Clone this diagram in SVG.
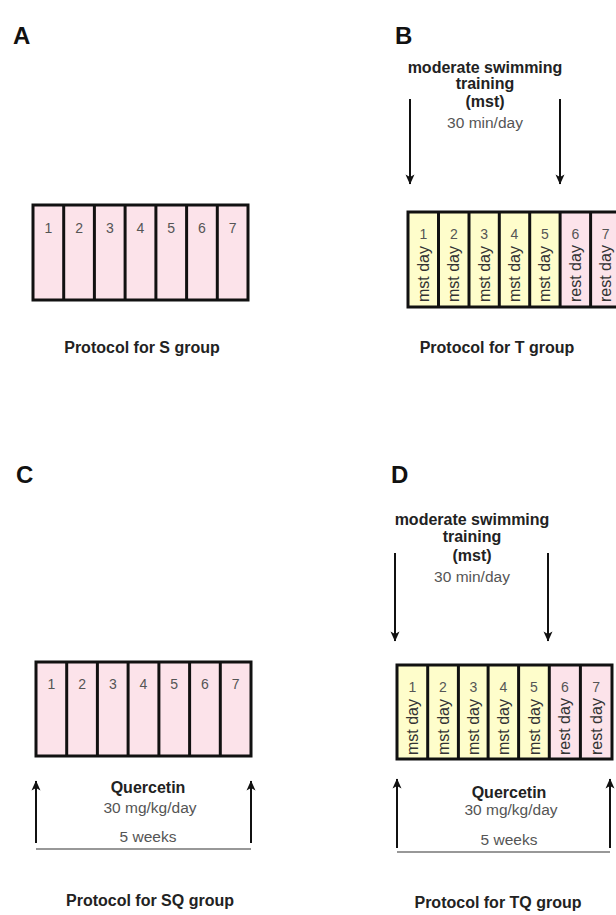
<svg xmlns="http://www.w3.org/2000/svg" width="616" height="915" viewBox="0 0 616 915">
<style>
.bg{fill:#ffffff}
.pink{fill:#fce3ea}
.yel{fill:#fefdcb}
.frame{fill:none;stroke:#111;stroke-width:3}
.div{stroke:#111;stroke-width:3}
.num{font-family:"Liberation Sans",Arial,sans-serif;font-size:14px;fill:#555;text-anchor:middle}
.rot{font-family:"Liberation Sans",Arial,sans-serif;font-size:16px;fill:#333}
.lab{font-family:"Liberation Sans",Arial,sans-serif;font-size:24px;font-weight:bold;fill:#111}
.hd{font-family:"Liberation Sans",Arial,sans-serif;font-size:16px;font-weight:bold;fill:#222;text-anchor:middle}
.rg{font-family:"Liberation Sans",Arial,sans-serif;font-size:15.5px;fill:#555;text-anchor:middle}
.arr{stroke:#111;stroke-width:2;fill:none;marker-end:url(#ah)}
.base{stroke:#333;stroke-width:1.2}
</style>
<defs>
<marker id="ah" viewBox="0 0 10 10" refX="9.5" refY="5" markerWidth="11" markerHeight="10" orient="auto" markerUnits="userSpaceOnUse">
<path d="M0,0.5 L10,5 L0,9.5 L2.5,5 z" fill="#111"/>
</marker>
</defs>
<rect class="bg" width="616" height="915"/>

<g id="panelA">
<text class="lab" x="13" y="44">A</text>
<rect class="pink" x="33" y="205" width="215" height="95"/>
<line class="div" x1="63.7" y1="205" x2="63.7" y2="300"/>
<line class="div" x1="94.4" y1="205" x2="94.4" y2="300"/>
<line class="div" x1="125.1" y1="205" x2="125.1" y2="300"/>
<line class="div" x1="155.9" y1="205" x2="155.9" y2="300"/>
<line class="div" x1="186.6" y1="205" x2="186.6" y2="300"/>
<line class="div" x1="217.3" y1="205" x2="217.3" y2="300"/>
<rect class="frame" x="33" y="205" width="215" height="95"/>
<text class="num" x="48.4" y="233">1</text>
<text class="num" x="79.1" y="233">2</text>
<text class="num" x="109.8" y="233">3</text>
<text class="num" x="140.5" y="233">4</text>
<text class="num" x="171.2" y="233">5</text>
<text class="num" x="202" y="233">6</text>
<text class="num" x="232.7" y="233">7</text>
<text class="hd" x="142" y="353">Protocol for S group</text>
</g>

<g id="panelB">
<text class="lab" x="395" y="44">B</text>
<rect class="yel" x="408" y="212" width="152" height="95"/>
<rect class="pink" x="560" y="212" width="62" height="95"/>
<line class="div" x1="438.5" y1="212" x2="438.5" y2="307"/>
<line class="div" x1="469" y1="212" x2="469" y2="307"/>
<line class="div" x1="499.3" y1="212" x2="499.3" y2="307"/>
<line class="div" x1="529.7" y1="212" x2="529.7" y2="307"/>
<line class="div" x1="560.1" y1="212" x2="560.1" y2="307"/>
<line class="div" x1="590.6" y1="212" x2="590.6" y2="307"/>
<rect class="frame" x="408" y="212" width="214" height="95"/>
<text class="num" x="423.5" y="239">1</text>
<text class="num" x="453.8" y="239">2</text>
<text class="num" x="484.2" y="239">3</text>
<text class="num" x="514.5" y="239">4</text>
<text class="num" x="544.9" y="239">5</text>
<text class="num" x="575.3" y="239">6</text>
<text class="num" x="605.6" y="239">7</text>
<text class="rot" transform="translate(429,302) rotate(-90)">mst day</text>
<text class="rot" transform="translate(459.3,302) rotate(-90)">mst day</text>
<text class="rot" transform="translate(489.7,302) rotate(-90)">mst day</text>
<text class="rot" transform="translate(520,302) rotate(-90)">mst day</text>
<text class="rot" transform="translate(550.4,302) rotate(-90)">mst day</text>
<text class="rot" transform="translate(580.8,302) rotate(-90)">rest day</text>
<text class="rot" transform="translate(611.1,302) rotate(-90)">rest day</text>
<text class="hd" x="485" y="73">moderate swimming</text>
<text class="hd" x="485" y="89">training</text>
<text class="hd" x="485" y="107">(mst)</text>
<text class="rg" x="485" y="128">30 min/day</text>
<text class="hd" x="497" y="353">Protocol for T group</text>
</g>

<g id="panelC">
<text class="lab" x="16" y="483">C</text>
<rect class="pink" x="36" y="662" width="215" height="94"/>
<line class="div" x1="66.7" y1="662" x2="66.7" y2="756"/>
<line class="div" x1="97.4" y1="662" x2="97.4" y2="756"/>
<line class="div" x1="128.1" y1="662" x2="128.1" y2="756"/>
<line class="div" x1="158.9" y1="662" x2="158.9" y2="756"/>
<line class="div" x1="189.6" y1="662" x2="189.6" y2="756"/>
<line class="div" x1="220.3" y1="662" x2="220.3" y2="756"/>
<rect class="frame" x="36" y="662" width="215" height="94"/>
<text class="num" x="51.4" y="689">1</text>
<text class="num" x="82.1" y="689">2</text>
<text class="num" x="112.8" y="689">3</text>
<text class="num" x="143.5" y="689">4</text>
<text class="num" x="174.2" y="689">5</text>
<text class="num" x="205" y="689">6</text>
<text class="num" x="235.7" y="689">7</text>
<text class="hd" x="148" y="793">Quercetin</text>
<text class="rg" x="150" y="813">30 mg/kg/day</text>
<text class="rg" x="148" y="842">5 weeks</text>
<text class="hd" x="150" y="906">Protocol for SQ group</text>
</g>

<g id="panelD">
<text class="lab" x="391" y="483">D</text>
<rect class="yel" x="397" y="665" width="152" height="94"/>
<rect class="pink" x="549" y="665" width="63" height="94"/>
<line class="div" x1="427.7" y1="665" x2="427.7" y2="759"/>
<line class="div" x1="458.4" y1="665" x2="458.4" y2="759"/>
<line class="div" x1="488.1" y1="665" x2="488.1" y2="759"/>
<line class="div" x1="518.6" y1="665" x2="518.6" y2="759"/>
<line class="div" x1="549.3" y1="665" x2="549.3" y2="759"/>
<line class="div" x1="580.4" y1="665" x2="580.4" y2="759"/>
<rect class="frame" x="397" y="665" width="215" height="94"/>
<text class="num" x="412.4" y="692">1</text>
<text class="num" x="443" y="692">2</text>
<text class="num" x="473.3" y="692">3</text>
<text class="num" x="503.4" y="692">4</text>
<text class="num" x="534" y="692">5</text>
<text class="num" x="564.9" y="692">6</text>
<text class="num" x="596.2" y="692">7</text>
<text class="rot" transform="translate(417.9,755) rotate(-90)">mst day</text>
<text class="rot" transform="translate(448.5,755) rotate(-90)">mst day</text>
<text class="rot" transform="translate(478.8,755) rotate(-90)">mst day</text>
<text class="rot" transform="translate(508.9,755) rotate(-90)">mst day</text>
<text class="rot" transform="translate(539.5,755) rotate(-90)">mst day</text>
<text class="rot" transform="translate(570.4,755) rotate(-90)">rest day</text>
<text class="rot" transform="translate(601.7,755) rotate(-90)">rest day</text>
<text class="hd" x="472" y="525">moderate swimming</text>
<text class="hd" x="472" y="542">training</text>
<text class="hd" x="472" y="561">(mst)</text>
<text class="rg" x="472" y="582">30 min/day</text>
<text class="hd" x="509" y="798">Quercetin</text>
<text class="rg" x="511" y="815">30 mg/kg/day</text>
<text class="rg" x="509" y="845">5 weeks</text>
<text class="hd" x="498" y="908">Protocol for TQ group</text>
</g>

<g id="connectors">
<line class="arr" x1="410" y1="99" x2="410" y2="184"/>
<line class="arr" x1="560" y1="99" x2="560" y2="184"/>
<line class="arr" x1="36" y1="843" x2="36" y2="781"/>
<line class="arr" x1="251" y1="843" x2="251" y2="781"/>
<line class="base" x1="36" y1="849" x2="251" y2="849"/>
<line class="arr" x1="395" y1="553" x2="395" y2="641"/>
<line class="arr" x1="548" y1="553" x2="548" y2="641"/>
<line class="arr" x1="397" y1="848" x2="397" y2="779"/>
<line class="arr" x1="610" y1="848" x2="610" y2="779"/>
<line class="base" x1="397" y1="852" x2="610" y2="852"/>
</g>
</svg>
